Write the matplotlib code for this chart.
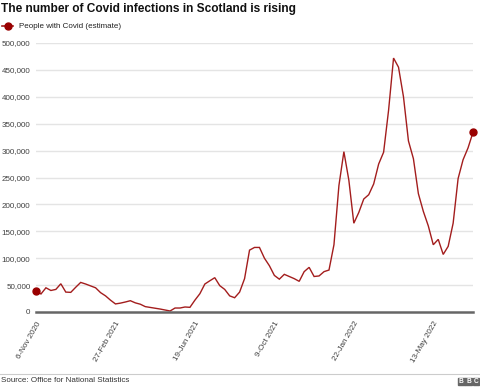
import matplotlib
matplotlib.use("Agg")
import matplotlib.pyplot as plt
from matplotlib.patches import Rectangle

plt.rcParams['font.family'] = ['Liberation Sans', 'DejaVu Sans']

# Weekly estimates of people with Covid in Scotland (ONS)
values = [39000, 33500, 45000, 40000, 42000, 52500, 37000, 36500, 46000, 55000,
          52000, 48500, 45000, 36000, 30000, 22000, 15000, 16500, 18600, 21000,
          17000, 14500, 10000, 8500, 7000, 5500, 3700, 1900, 7400, 7400,
          9300, 8700, 22000, 34000, 52000, 58000, 63800, 49000, 42000, 30000,
          26500, 37000, 62000, 115000, 120000, 120000, 100000, 86000, 68000, 61000,
          70000, 66000, 62000, 57000, 75000, 83000, 66000, 67000, 75000, 78000,
          125000, 235000, 298000, 245000, 165000, 185000, 210000, 218000, 238000, 275000,
          297000, 375000, 472000, 455000, 400000, 318000, 285000, 220000, 187000, 160000,
          125000, 135000, 107000, 122000, 165000, 248000, 283000, 305000, 334000]
tick_index = [0, 16, 32, 48, 64, 80]
tick_labels = ['6-Nov 2020', '27-Feb 2021', '19-Jun 2021', '9-Oct 2021', '22-Jan 2022', '13-May 2022']
y_ticks = list(range(0, 500001, 50000))

RED = '#a31d1d'
DOT = '#990000'
FS = 5.8

fig = plt.figure(figsize=(4.8, 3.88), dpi=100)
ax = fig.add_axes([36/480, 1 - 312/388, (473-36)/480, (312-43)/388])

x = list(range(len(values)))
ax.plot(x, values, color=RED, lw=1.0, solid_joinstyle='miter')
ax.plot([x[0], x[-1]], [values[0], values[-1]], 'o', color=DOT, ms=5, clip_on=False, zorder=5)

ax.set_xlim(0, len(values) - 1)
ax.set_ylim(0, 500000)
ax.set_yticks(y_ticks)
ax.set_yticklabels([f'{v:,}' for v in y_ticks], fontsize=FS, color='#404040')
ax.set_xticks(tick_index)
ax.set_xticklabels(tick_labels, rotation=60, ha='right', va='top', fontsize=FS,
                   color='#404040', rotation_mode='anchor')
ax.tick_params(axis='both', length=0, pad=4)
ax.tick_params(axis='x', pad=6)
for v in y_ticks[1:]:
    ax.axhline(v, color='#e4e4e4', lw=1, zorder=0)
for s in ['top', 'right', 'left']:
    ax.spines[s].set_visible(False)
ax.spines['bottom'].set_color('#666666')
ax.spines['bottom'].set_linewidth(1.8)

fig.text(1/480, 1 - 9/388, 'The number of Covid infections in Scotland is rising',
         fontsize=8.6, fontweight='bold', ha='left', va='center', color='#111111')
# legend
fig.lines.append(plt.Line2D([2/480, 13/480], [1 - 26/388, 1 - 26/388], color=RED, lw=1.2,
                            transform=fig.transFigure))
fig.lines.append(plt.Line2D([7.5/480], [1 - 26/388], marker='o', color=DOT, ms=5,
                            transform=fig.transFigure))
fig.text(19/480, 1 - 26/388, 'People with Covid (estimate)', fontsize=FS,
         ha='left', va='center', color='#222222')

# footer
fig.lines.append(plt.Line2D([0, 1], [1 - 374/388, 1 - 374/388], color='#cccccc', lw=0.8,
                            transform=fig.transFigure))
fig.text(1/480, 1 - 381/388, 'Source: Office for National Statistics', fontsize=FS,
         ha='left', va='center', color='#333333')
for i, ch in enumerate('BBC'):
    x0 = 458 + i * 7.3
    fig.patches.append(Rectangle((x0/480, 1 - 385/388), 6.5/480, 7/388, color='#666666',
                                 transform=fig.transFigure))
    fig.text((x0 + 3.25)/480, 1 - 381.5/388, ch, fontsize=4.8, fontweight='bold',
             color='white', ha='center', va='center')

fig.savefig('out.png', dpi=100)
